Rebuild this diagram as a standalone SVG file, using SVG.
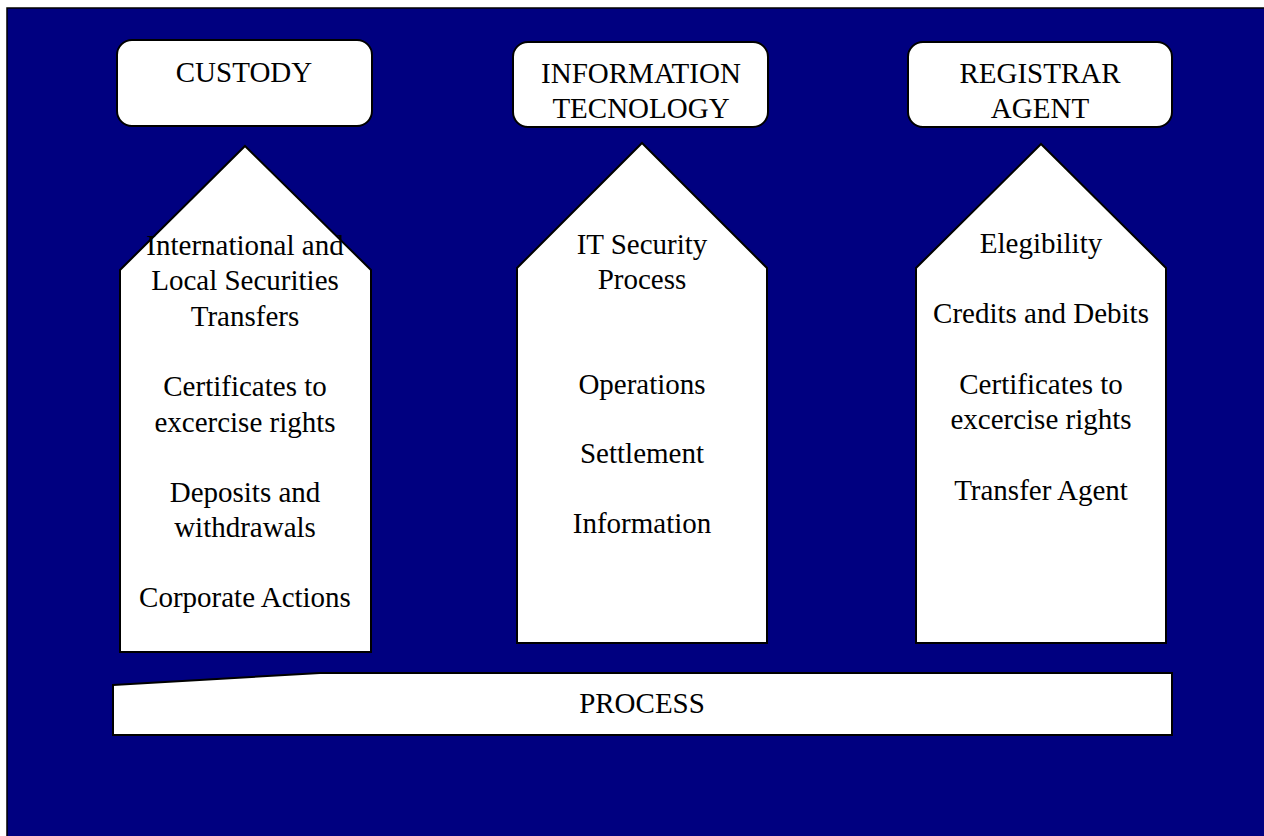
<svg xmlns="http://www.w3.org/2000/svg" width="1264" height="836" viewBox="0 0 1264 836">
<style>
.shape{fill:#ffffff;stroke:#000000;stroke-width:2;stroke-linejoin:miter}
.t{font-family:"Liberation Serif","Times New Roman",serif;font-size:29px;fill:#000000;text-anchor:middle}
</style>
<rect x="0" y="0" width="1264" height="836" fill="#ffffff"/>
<rect x="7" y="8" width="1270" height="840" fill="#000080" stroke="#000000" stroke-width="1.5"/>
<g id="custody-header">
<rect class="shape" x="117" y="40" width="255" height="86" rx="15" ry="15"/>
<text class="t" x="244" y="82">CUSTODY</text>
</g>
<g id="it-header">
<rect class="shape" x="513" y="42" width="255" height="85" rx="15" ry="15"/>
<text class="t" x="641" y="83">INFORMATION</text>
<text class="t" x="641" y="118">TECNOLOGY</text>
</g>
<g id="registrar-header">
<rect class="shape" x="908" y="42" width="264" height="85" rx="15" ry="15"/>
<text class="t" x="1040" y="83">REGISTRAR</text>
<text class="t" x="1040" y="118">AGENT</text>
</g>
<g id="custody-column">
<polygon class="shape" points="245,146 371,270 371,652 120,652 120,270"/>
<text class="t" x="245" y="255">International and</text>
<text class="t" x="245" y="290">Local Securities</text>
<text class="t" x="245" y="326">Transfers</text>
<text class="t" x="245" y="396">Certificates to</text>
<text class="t" x="245" y="432">excercise rights</text>
<text class="t" x="245" y="502">Deposits and</text>
<text class="t" x="245" y="537">withdrawals</text>
<text class="t" x="245" y="607">Corporate Actions</text>
</g>
<g id="it-column">
<polygon class="shape" points="642,143 767,268 767,643 517,643 517,268"/>
<text class="t" x="642" y="254">IT Security</text>
<text class="t" x="642" y="289">Process</text>
<text class="t" x="642" y="394">Operations</text>
<text class="t" x="642" y="463">Settlement</text>
<text class="t" x="642" y="533">Information</text>
</g>
<g id="registrar-column">
<polygon class="shape" points="1041,144 1166,268 1166,643 916,643 916,268"/>
<text class="t" x="1041" y="253">Elegibility</text>
<text class="t" x="1041" y="323">Credits and Debits</text>
<text class="t" x="1041" y="394">Certificates to</text>
<text class="t" x="1041" y="429">excercise rights</text>
<text class="t" x="1041" y="500">Transfer Agent</text>
</g>
<g id="process-bar">
<polygon class="shape" points="113,685 320,673 1172,673 1172,735 113,735"/>
<text class="t" x="642" y="713">PROCESS</text>
</g>
<g id="connectors"></g>
</svg>
